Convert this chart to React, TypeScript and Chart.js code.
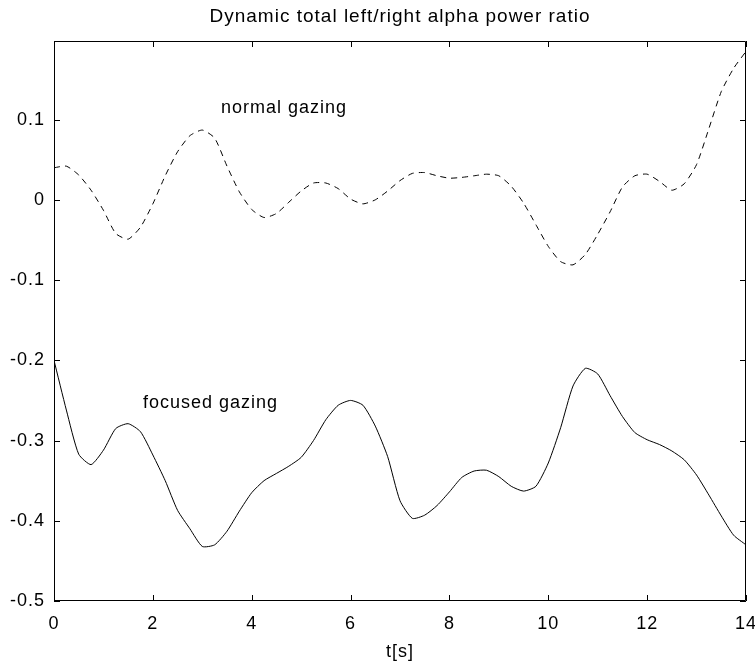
import React, { useEffect, useRef } from "react";
import { Chart, registerables } from "chart.js";

Chart.register(...registerables);

const TITLE = "Dynamic total left/right alpha power ratio";
const X_LABEL = "t[s]";
const NORMAL_LABEL = "normal gazing";
const FOCUSED_LABEL = "focused gazing";

const TIMES = [
  0, 0.25, 0.5, 0.75, 1.0, 1.25, 1.5, 1.75, 2.0, 2.25, 2.5, 2.75, 3.0, 3.25, 3.5, 3.75,
  4.0, 4.25, 4.5, 4.75, 5.0, 5.25, 5.5, 5.75, 6.0, 6.25, 6.5, 6.75, 7.0, 7.25, 7.5, 7.75,
  8.0, 8.25, 8.5, 8.75, 9.0, 9.25, 9.5, 9.75, 10.0, 10.25, 10.5, 10.75, 11.0, 11.25, 11.5,
  11.75, 12.0, 12.25, 12.5, 12.75, 13.0, 13.25, 13.5, 13.75, 14.0,
];

const NORMAL = [
  0.040, 0.042, 0.031, 0.012, -0.013, -0.042, -0.049, -0.034, -0.005, 0.030, 0.060, 0.080,
  0.087, 0.077, 0.042, 0.010, -0.012, -0.022, -0.017, -0.003, 0.011, 0.021, 0.021, 0.014,
  0.001, -0.005, 0.000, 0.011, 0.024, 0.033, 0.034, 0.030, 0.027, 0.028, 0.030, 0.032,
  0.030, 0.017, -0.004, -0.031, -0.058, -0.077, -0.081, -0.068, -0.043, -0.015, 0.016,
  0.030, 0.032, 0.023, 0.012, 0.020, 0.044, 0.089, 0.135, 0.164, 0.185,
];

const FOCUSED = [
  -0.200, -0.262, -0.317, -0.330, -0.312, -0.285, -0.279, -0.289, -0.318, -0.350, -0.387,
  -0.410, -0.432, -0.430, -0.413, -0.388, -0.365, -0.350, -0.341, -0.332, -0.321, -0.300,
  -0.274, -0.256, -0.250, -0.256, -0.282, -0.320, -0.375, -0.397, -0.393, -0.381, -0.364,
  -0.346, -0.338, -0.337, -0.345, -0.357, -0.363, -0.357, -0.328, -0.284, -0.232, -0.210,
  -0.217, -0.244, -0.270, -0.290, -0.299, -0.305, -0.313, -0.324, -0.343, -0.368, -0.394,
  -0.418, -0.430,
];

const X_TICKS = [0, 2, 4, 6, 8, 10, 12, 14];
const Y_TICKS = [-0.5, -0.4, -0.3, -0.2, -0.1, 0, 0.1];

const FONT_FAMILY = 'Arial, "Liberation Sans", Helvetica, sans-serif';

const framePlugin = {
  id: "matlabFrame",
  beforeDraw(chart: any) {
    const ctx = chart.ctx;
    ctx.fillStyle = "#ffffff";
    ctx.fillRect(0, 0, chart.width, chart.height);
    ctx.letterSpacing = "1px";
  },
  afterDraw(chart: any) {
    const ctx = chart.ctx;
    const { left, right, top, bottom } = chart.chartArea;
    const xs = chart.scales.x;
    const ys = chart.scales.y;
    ctx.save();
    ctx.strokeStyle = "#000";
    ctx.lineWidth = 1;
    ctx.beginPath();
    ctx.rect(Math.round(left) + 0.5, Math.round(top) + 0.5, Math.round(right - left) - 1, Math.round(bottom - top) - 1);
    ctx.stroke();
    const tl = 6;
    ctx.beginPath();
    for (const v of X_TICKS) {
      const px = Math.round(xs.getPixelForValue(v)) + 0.5;
      ctx.moveTo(px, bottom);
      ctx.lineTo(px, bottom - tl);
      ctx.moveTo(px, top);
      ctx.lineTo(px, top + tl);
    }
    for (const v of Y_TICKS) {
      const py = Math.round(ys.getPixelForValue(v)) + 0.5;
      ctx.moveTo(left, py);
      ctx.lineTo(left + tl, py);
      ctx.moveTo(right, py);
      ctx.lineTo(right - tl, py);
    }
    ctx.stroke();

    ctx.fillStyle = "#000";
    ctx.letterSpacing = "1px";
    ctx.textBaseline = "alphabetic";
    ctx.textAlign = "center";
    const cx = (left + right) / 2;
    ctx.font = `19px ${FONT_FAMILY}`;
    ctx.fillText(TITLE, cx, 22);
    ctx.font = `18px ${FONT_FAMILY}`;
    ctx.fillText(X_LABEL, cx, 657);
    ctx.textAlign = "left";
    ctx.fillText(NORMAL_LABEL, xs.getPixelForValue(3.38), ys.getPixelForValue(0.1085));
    ctx.fillText(FOCUSED_LABEL, xs.getPixelForValue(1.8), ys.getPixelForValue(-0.26));
    ctx.restore();
  },
};

export default function App() {
  const canvasRef = useRef<HTMLCanvasElement | null>(null);

  useEffect(() => {
    const canvas = canvasRef.current;
    if (!canvas) return;
    const chart = new Chart(canvas, {
      type: "line",
      data: {
        datasets: [
          {
            label: NORMAL_LABEL,
            data: TIMES.map((t, i) => ({ x: t, y: NORMAL[i] })),
            borderColor: "#000",
            borderWidth: 1,
            borderDash: [6, 5],
            pointRadius: 0,
            tension: 0.2,
            fill: false,
          },
          {
            label: FOCUSED_LABEL,
            data: TIMES.map((t, i) => ({ x: t, y: FOCUSED[i] })),
            borderColor: "#000",
            borderWidth: 1,
            pointRadius: 0,
            tension: 0.2,
            fill: false,
          },
        ],
      },
      options: {
        responsive: false,
        animation: false,
        events: [],
        layout: { padding: { left: 0, top: 41, right: 9, bottom: 0 } },
        plugins: {
          legend: { display: false },
          title: { display: false },
          tooltip: { enabled: false },
        },
        scales: {
          x: {
            type: "linear",
            min: 0,
            max: 14,
            grid: { display: false, drawTicks: false },
            border: { display: false },
            afterBuildTicks: (scale: any) => {
              scale.ticks = X_TICKS.map((v) => ({ value: v }));
            },
            afterFit: (scale: any) => {
              scale.height = 61;
              scale.paddingLeft = 0;
              scale.paddingRight = 0;
            },
            ticks: {
              color: "#000",
              padding: 12,
              maxRotation: 0,
              autoSkip: false,
              font: { family: FONT_FAMILY, size: 18 },
              callback: (v: any) => String(v),
            },
          },
          y: {
            type: "linear",
            min: -0.5,
            max: 0.198,
            grid: { display: false, drawTicks: false },
            border: { display: false },
            afterBuildTicks: (scale: any) => {
              scale.ticks = Y_TICKS.map((v) => ({ value: v }));
            },
            afterFit: (scale: any) => {
              scale.width = 54;
              scale.paddingTop = 0;
              scale.paddingBottom = 0;
            },
            ticks: {
              color: "#000",
              padding: 9,
              autoSkip: false,
              font: { family: FONT_FAMILY, size: 18 },
              callback: (v: any) => String(Math.round(v * 10) / 10),
            },
          },
        },
      },
      plugins: [framePlugin],
    });
    return () => chart.destroy();
  }, []);

  return (
    <div style={{ position: "absolute", left: 0, top: 0, width: 755, height: 662, background: "#fff" }}>
      <canvas ref={canvasRef} width={755} height={662} style={{ display: "block" }} />
    </div>
  );
}
